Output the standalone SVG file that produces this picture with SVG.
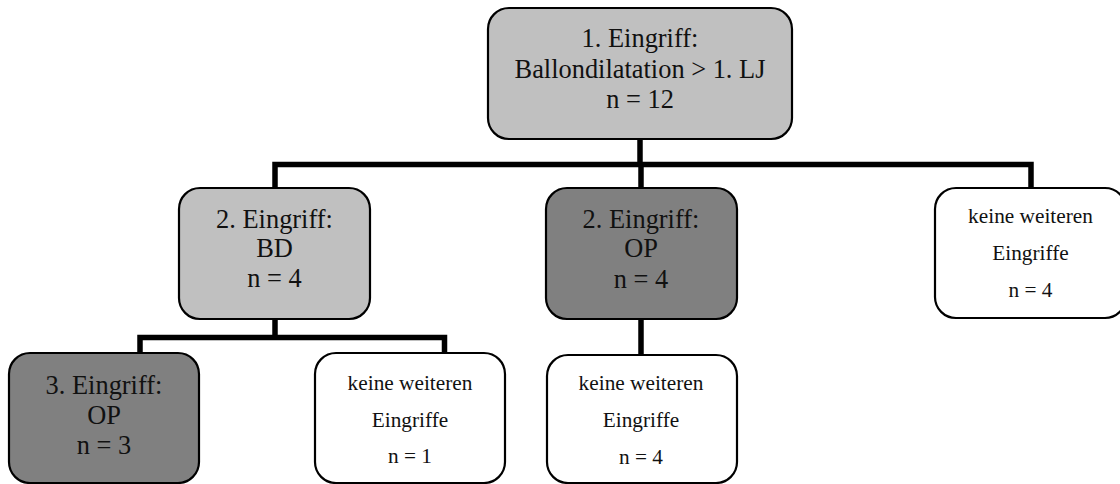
<svg xmlns="http://www.w3.org/2000/svg" width="1120" height="484" viewBox="0 0 1120 484">
  <style>
    .box { stroke: #000; stroke-width: 2.2; }
    .light { fill: #c0c0c0; }
    .dark { fill: #808080; }
    .white { fill: #ffffff; }
    text { font-family: 'Liberation Serif', 'Times New Roman', serif; fill: #111; text-anchor: middle; }
    .big { font-size: 26.4px; }
    .small { font-size: 21.3px; }
    .link { fill: none; stroke: #000; stroke-width: 5.5; stroke-linejoin: miter; stroke-linecap: butt; }
  </style>
  <rect width="1120" height="484" fill="#ffffff"/>

  <!-- tree links -->
  <g id="connectors">
    <line class="link" x1="640" y1="139" x2="640" y2="165"/>
    <polyline class="link" points="275,188 275,164.5 1031,164.5 1031,188"/>
    <line class="link" x1="641" y1="164" x2="641" y2="188"/>
    <polyline class="link" points="275,319 275,337.5"/>
    <polyline class="link" points="140,353 140,337.5 444.5,337.5 444.5,353"/>
    <line class="link" x1="641" y1="319" x2="641" y2="355"/>
  </g>

  <g id="root">
    <rect class="box light" x="488" y="8" width="304" height="131" rx="21"/>
    <text class="big" x="640" y="47">1. Eingriff:</text>
    <text class="big" x="640" y="78">Ballondilatation &gt; 1. LJ</text>
    <text class="big" x="640" y="108">n = 12</text>
  </g>

  <g id="bd2">
    <rect class="box light" x="179" y="188" width="191" height="131" rx="21"/>
    <text class="big" x="274.5" y="228">2. Eingriff:</text>
    <text class="big" x="274.5" y="257">BD</text>
    <text class="big" x="274.5" y="287">n = 4</text>
  </g>

  <g id="op2">
    <rect class="box dark" x="546" y="188" width="191" height="131" rx="21"/>
    <text class="big" x="641" y="228">2. Eingriff:</text>
    <text class="big" x="641" y="257">OP</text>
    <text class="big" x="641" y="288">n = 4</text>
  </g>

  <g id="none-root">
    <rect class="box white" x="935" y="188" width="191" height="130" rx="21"/>
    <text class="small" x="1030.5" y="223">keine weiteren</text>
    <text class="small" x="1030.5" y="260">Eingriffe</text>
    <text class="small" x="1030.5" y="297">n = 4</text>
  </g>

  <g id="op3">
    <rect class="box dark" x="9" y="353" width="190" height="130" rx="21"/>
    <text class="big" x="104" y="394">3. Eingriff:</text>
    <text class="big" x="104" y="424">OP</text>
    <text class="big" x="104" y="454">n = 3</text>
  </g>

  <g id="none-bd">
    <rect class="box white" x="315" y="353" width="190" height="130" rx="21"/>
    <text class="small" x="410" y="390">keine weiteren</text>
    <text class="small" x="410" y="427">Eingriffe</text>
    <text class="small" x="410" y="463">n = 1</text>
  </g>

  <g id="none-op">
    <rect class="box white" x="547" y="355" width="190" height="128" rx="21"/>
    <text class="small" x="641" y="390">keine weiteren</text>
    <text class="small" x="641" y="427">Eingriffe</text>
    <text class="small" x="641" y="464">n = 4</text>
  </g>
</svg>
